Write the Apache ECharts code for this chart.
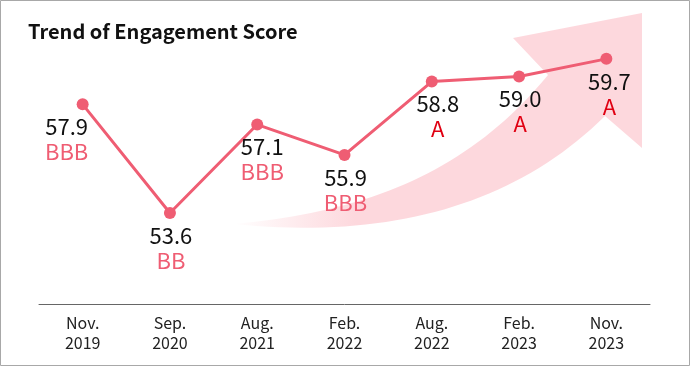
<!DOCTYPE html>
<html><head><meta charset="utf-8">
<script src="https://cdn.jsdelivr.net/npm/echarts@6/dist/echarts.min.js"></script>
<style>html,body{margin:0;padding:0;background:#fff}#c{width:690px;height:366px}</style>
</head><body><div id="c"></div>
<script>
const categories = ['Nov.\n2019','Sep.\n2020','Aug.\n2021','Feb.\n2022','Aug.\n2022','Feb.\n2023','Nov.\n2023'];
const scores = [57.9, 53.6, 57.1, 55.9, 58.8, 59.0, 59.7];
const ratings = ['BBB','BB','BBB','BBB','A','A','A'];
const FONT = '"Noto Sans CJK JP", "Noto Sans", sans-serif';
// horizontal nudges of the value labels (layout style only)
const labelDx = [-16, 1, 5, 1, 6, 1, 3];

// decorative arrow outline (pixel geometry, not data)
function bez(p0,p1,p2,p3,n){const out=[];for(let i=0;i<=n;i++){const t=i/n,u=1-t;out.push([u*u*u*p0[0]+3*u*u*t*p1[0]+3*u*t*t*p2[0]+t*t*t*p3[0],u*u*u*p0[1]+3*u*u*t*p1[1]+3*u*t*t*p2[1]+t*t*t*p3[1]]);}return out;}
const arrowPts = [].concat(
  bez([233,224],[370,212],[470,170],[548,75],40),
  [[513,38],[642,13],[642,148]],
  bez([605,116],[515,205],[390,240],[233,224],40)
);

const chart = echarts.init(document.getElementById('c'), null, {renderer:'canvas'});
chart.setOption({
  animation:false,
  backgroundColor:'#fff',
  textStyle:{fontFamily:FONT},
  title:{text:'Trend of Engagement Score', left:23, top:16,
    textStyle:{fontFamily:FONT, fontSize:20, fontWeight:'bold', color:'#111'}},
  graphic:[
    {type:'rect', z:-10, shape:{x:0.5,y:0.5,width:689,height:365}, style:{fill:'rgba(0,0,0,0)', stroke:'#a8a8a8', lineWidth:1}},
    {type:'polygon', z:-5, shape:{points:arrowPts},
     style:{fill:new echarts.graphic.LinearGradient(0,0,1,0,[{offset:0,color:'rgba(253,216,221,0)'},{offset:0.3,color:'#fdd8dd'},{offset:1,color:'#fdd8dd'}])}}
  ],
  grid:{left:39, right:40, top:26, bottom:62},
  xAxis:{type:'category', data:categories, boundaryGap:true,
    axisLine:{lineStyle:{color:'#666', width:1}}, axisTick:{show:false},
    axisLabel:{color:'#222', fontSize:16, lineHeight:20, margin:9, fontFamily:FONT}},
  yAxis:{type:'value', min:50, max:61, show:false, splitLine:{show:false}},
  series:[{
    type:'line', symbol:'circle', symbolSize:12,
    data:scores.map((v,i)=>({value:v, label:{offset:[labelDx[i],0]}})),
    itemStyle:{color:'#ef5d73'}, lineStyle:{color:'#ef5d73', width:3},
    label:{show:true, position:'bottom', distance:4,
      formatter:p => '{v|' + p.value.toFixed(1) + '}\n{' + (ratings[p.dataIndex]==='A'?'a':'b') + '|' + ratings[p.dataIndex] + '}',
      rich:{
        v:{fontSize:22, lineHeight:25, color:'#111', fontFamily:FONT},
        a:{fontSize:22, lineHeight:25, color:'#e00012', fontFamily:FONT},
        b:{fontSize:22, lineHeight:25, color:'#ef5d73', fontFamily:FONT}
      }}
  }]
});
</script></body></html>
